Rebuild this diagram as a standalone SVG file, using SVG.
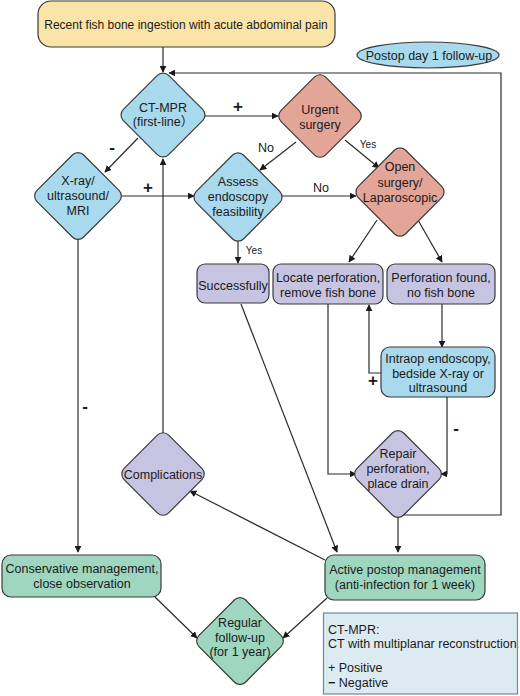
<svg xmlns="http://www.w3.org/2000/svg" width="520" height="696" viewBox="0 0 520 696">
<style>
text{font-family:"Liberation Sans",Arial,"Noto Sans CJK SC",sans-serif;font-size:12.5px;fill:#1a1a1a;text-anchor:middle}
.nd{stroke:#3a3a3a;stroke-width:1.2}
.blue{fill:#a9d9ec}.sal{fill:#e3a598}.pur{fill:#c7c4e2}.grn{fill:#9fd6bf}.yel{fill:#fbe4a7}
.c{fill:none;stroke:#2a2a2a;stroke-width:1.2}
.a{marker-end:url(#ar)}
.sm{font-size:10px}
.pm{font-size:17px;font-weight:bold}
.lg{text-anchor:start}
</style>
<defs>
<marker id="ar" viewBox="0 0 10 10" refX="9" refY="5" markerWidth="7" markerHeight="7" markerUnits="userSpaceOnUse" orient="auto">
<path d="M0,0 L10,5 L0,10 z" fill="#1a1a1a"/>
</marker>
</defs>
<rect width="520" height="696" fill="#fff"/>
<g id="connectors">
<path class="c a" d="M163 47 V72"/>
<path class="c a" d="M204 116 H278"/>
<path class="c a" d="M138 138 L105 172"/>
<path class="c a" d="M122 196 H194"/>
<path class="c a" d="M296 142 L260 170"/>
<path class="c a" d="M345 140 L379 168"/>
<path class="c a" d="M282 196 H356"/>
<path class="c a" d="M238 240 V263"/>
<path class="c a" d="M377 220 L349 262"/>
<path class="c a" d="M418 220 L442 262"/>
<path class="c a" d="M442 304 V347"/>
<path class="c a" d="M381 373 H369 V305"/>
<path class="c a" d="M447 397 V474 H441"/>
<path class="c a" d="M328 304 V474 H356"/>
<path class="c a" d="M398 517 V552"/>
<path class="c a" d="M400 515 H501 V73 H169"/>
<path class="c a" d="M78 238 V552"/>
<path class="c a" d="M163 433 V159"/>
<path class="c a" d="M241 304 L337 552"/>
<path class="c a" d="M325 560 L190 491"/>
<path class="c a" d="M155 597 L197 638"/>
<path class="c a" d="M327 598 L283 638"/>
<text class="pm" x="238" y="112">+</text>
<text class="pm" x="112" y="153">-</text>
<text class="pm" x="148" y="193">+</text>
<text x="266" y="152">No</text>
<text class="sm" x="368" y="148">Yes</text>
<text x="321" y="192">No</text>
<text class="sm" x="254" y="254">Yes</text>
<text class="pm" x="373" y="386">+</text>
<text class="pm" x="456" y="434">-</text>
<text class="pm" x="85" y="412">-</text>
</g>
<g id="start">
<rect class="nd yel" x="38" y="1" width="297" height="46" rx="13"/>
<text x="186" y="29" style="font-size:12px">Recent fish bone ingestion with acute abdominal pain</text>
</g>
<g id="postop">
<ellipse class="nd blue" cx="428" cy="55" rx="71" ry="13"/>
<text x="429" y="59.5">Postop day 1 follow-up</text>
</g>
<g id="ctmpr">
<rect class="nd blue" x="-32" y="-32" width="64" height="64" rx="8" transform="translate(163 115) rotate(45)"/>
<text x="163" y="111.5">CT-MPR</text>
<text x="163" y="126">(first-line）</text>
</g>
<g id="urgent">
<rect class="nd sal" x="-31.5" y="-31.5" width="63" height="63" rx="8" transform="translate(320 116) rotate(45)"/>
<text x="320" y="113.5">Urgent</text>
<text x="320" y="128.5">surgery</text>
</g>
<g id="xray">
<rect class="nd blue" x="-33" y="-33" width="66" height="66" rx="8" transform="translate(78 196) rotate(45)"/>
<text x="78" y="184.5">X-ray/</text>
<text x="78" y="199.5">ultrasound/</text>
<text x="78" y="214.5">MRI</text>
</g>
<g id="assess">
<rect class="nd blue" x="-33.5" y="-33.5" width="67" height="67" rx="8" transform="translate(238 197) rotate(45)"/>
<text x="238" y="185.5">Assess</text>
<text x="238" y="200.5">endoscopy</text>
<text x="238" y="215.5">feasibility</text>
</g>
<g id="open">
<rect class="nd sal" x="-33.5" y="-33.5" width="67" height="67" rx="8" transform="translate(400 192) rotate(45)"/>
<text x="400" y="170.5">Open</text>
<text x="400" y="186.5">surgery/</text>
<text x="400" y="201.5">Laparoscopic</text>
</g>
<g id="successfully">
<rect class="nd pur" x="197" y="264" width="72" height="39" rx="8"/>
<text x="233" y="289.5">Successfully</text>
</g>
<g id="locate">
<rect class="nd pur" x="273" y="264" width="110" height="40" rx="8"/>
<text x="328" y="281.5">Locate perforation,</text>
<text x="328" y="296.5">remove fish bone</text>
</g>
<g id="perffound">
<rect class="nd pur" x="387" y="264" width="108" height="40" rx="8"/>
<text x="441" y="281.5">Perforation found,</text>
<text x="441" y="296.5">no fish bone</text>
</g>
<g id="intraop">
<rect class="nd blue" x="381" y="347" width="114" height="50" rx="9"/>
<text x="438" y="362.5">Intraop endoscopy,</text>
<text x="438" y="377.5">bedside X-ray or</text>
<text x="438" y="392">ultrasound</text>
</g>
<g id="repair">
<rect class="nd pur" x="-33" y="-33" width="66" height="66" rx="8" transform="translate(398 474) rotate(45)"/>
<text x="398" y="457.5">Repair</text>
<text x="398" y="472.5">perforation,</text>
<text x="398" y="487.5">place drain</text>
</g>
<g id="complications">
<rect class="nd pur" x="-31.5" y="-31.5" width="63" height="63" rx="8" transform="translate(163 474) rotate(45)"/>
<text x="163" y="478.5">Complications</text>
</g>
<g id="conservative">
<rect class="nd grn" x="2" y="555" width="159" height="42" rx="9"/>
<text x="82" y="572.5">Conservative management,</text>
<text x="82" y="587.5">close observation</text>
</g>
<g id="active">
<rect class="nd grn" x="325" y="555" width="160" height="45" rx="9"/>
<text x="405" y="573.5">Active postop management</text>
<text x="405" y="588.5">(anti-infection for 1 week)</text>
</g>
<g id="regular">
<rect class="nd grn" x="-33" y="-33" width="66" height="66" rx="8" transform="translate(240 641) rotate(45)"/>
<text x="240" y="626.5">Regular</text>
<text x="240" y="641.5">follow-up</text>
<text x="240" y="655.5">(for 1 year)</text>
</g>
<g id="legend">
<rect x="323.5" y="613" width="194" height="81" fill="#dceaf1" stroke="#6e8b98" stroke-width="1.2"/>
<text class="lg" x="328" y="633.5">CT-MPR:</text>
<text class="lg" x="328" y="647.5">CT with multiplanar reconstruction</text>
<text class="lg" x="328" y="671.5">+ Positive</text>
<text class="lg" x="328" y="686.5"><tspan style="font-weight:bold">−</tspan> Negative</text>
</g>
</svg>
